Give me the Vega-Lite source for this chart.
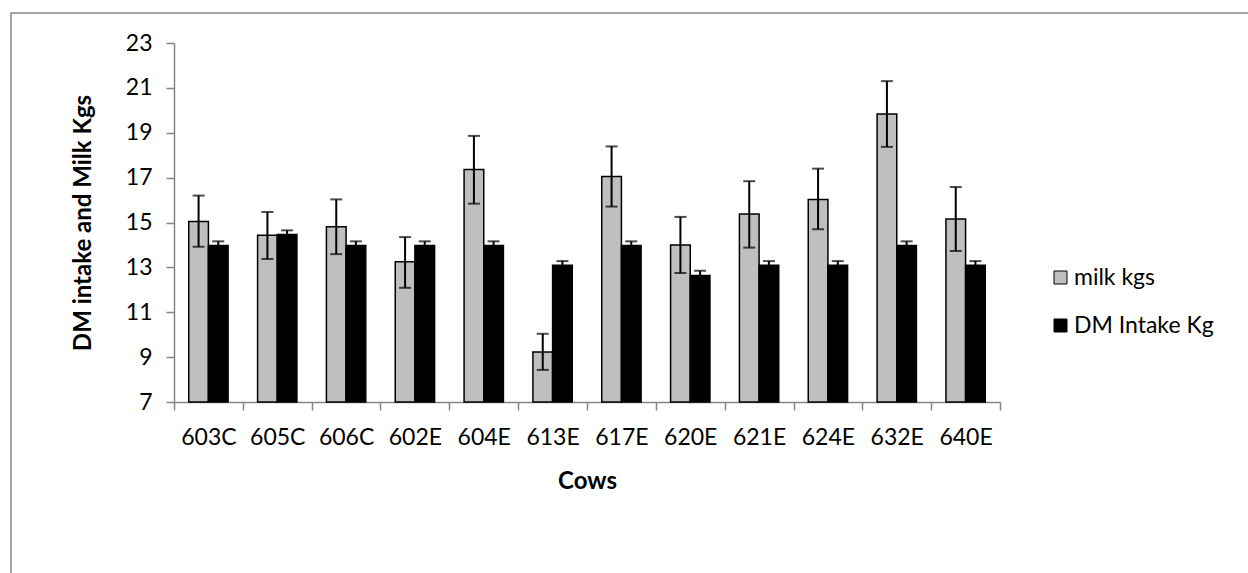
{
  "$schema": "https://vega.github.io/schema/vega-lite/v6.json",
  "autosize": {"type": "none"},
  "padding": {"left": 11, "top": 13, "right": -23, "bottom": -20},
  "width": 1260,
  "height": 580,
  "background": "white",
  "config": {
    "view": {"stroke": "#888888", "strokeWidth": 1.5},
    "font": "Lato",
    "axis": {"grid": false, "labelFont": "Lato", "titleFont": "Lato", "labelColor": "#000000", "titleColor": "#000000"}
  },
  "data": {
    "values": [
      {"cow": "603C", "series": "milk kgs", "value": 15.04, "lo": 13.92, "hi": 16.20},
      {"cow": "603C", "series": "DM Intake Kg", "value": 13.97, "lo": 13.78, "hi": 14.16},
      {"cow": "605C", "series": "milk kgs", "value": 14.43, "lo": 13.37, "hi": 15.47},
      {"cow": "605C", "series": "DM Intake Kg", "value": 14.47, "lo": 14.29, "hi": 14.65},
      {"cow": "606C", "series": "milk kgs", "value": 14.81, "lo": 13.59, "hi": 16.03},
      {"cow": "606C", "series": "DM Intake Kg", "value": 13.97, "lo": 13.78, "hi": 14.16},
      {"cow": "602E", "series": "milk kgs", "value": 13.25, "lo": 12.09, "hi": 14.35},
      {"cow": "602E", "series": "DM Intake Kg", "value": 13.97, "lo": 13.78, "hi": 14.16},
      {"cow": "604E", "series": "milk kgs", "value": 17.36, "lo": 15.84, "hi": 18.86},
      {"cow": "604E", "series": "DM Intake Kg", "value": 13.97, "lo": 13.78, "hi": 14.16},
      {"cow": "613E", "series": "milk kgs", "value": 9.23, "lo": 8.43, "hi": 10.04},
      {"cow": "613E", "series": "DM Intake Kg", "value": 13.09, "lo": 12.90, "hi": 13.28},
      {"cow": "617E", "series": "milk kgs", "value": 17.05, "lo": 15.71, "hi": 18.39},
      {"cow": "617E", "series": "DM Intake Kg", "value": 13.97, "lo": 13.78, "hi": 14.16},
      {"cow": "620E", "series": "milk kgs", "value": 14.00, "lo": 12.75, "hi": 15.25},
      {"cow": "620E", "series": "DM Intake Kg", "value": 12.64, "lo": 12.43, "hi": 12.85},
      {"cow": "621E", "series": "milk kgs", "value": 15.38, "lo": 13.88, "hi": 16.84},
      {"cow": "621E", "series": "DM Intake Kg", "value": 13.09, "lo": 12.90, "hi": 13.28},
      {"cow": "624E", "series": "milk kgs", "value": 16.03, "lo": 14.70, "hi": 17.40},
      {"cow": "624E", "series": "DM Intake Kg", "value": 13.09, "lo": 12.90, "hi": 13.28},
      {"cow": "632E", "series": "milk kgs", "value": 19.84, "lo": 18.37, "hi": 21.30},
      {"cow": "632E", "series": "DM Intake Kg", "value": 13.97, "lo": 13.78, "hi": 14.16},
      {"cow": "640E", "series": "milk kgs", "value": 15.16, "lo": 13.73, "hi": 16.58},
      {"cow": "640E", "series": "DM Intake Kg", "value": 13.09, "lo": 12.90, "hi": 13.28}
    ]
  },
  "encoding": {
    "x": {
      "field": "cow",
      "type": "nominal",
      "sort": null,
      "scale": {"range": [163, 989], "paddingInner": 0, "paddingOuter": 0},
      "axis": {
        "title": "Cows",
        "offset": -191,
        "labelAngle": 0,
        "labelFontSize": 23,
        "labelPadding": 16,
        "labelOverlap": false,
        "titleFontSize": 24,
        "titleFontWeight": "bold",
        "titlePadding": 20,
        "tickBand": "extent",
        "tickSize": 8,
        "tickColor": "#868686",
        "tickWidth": 1.5,
        "domainColor": "#868686",
        "domainWidth": 1.5
      }
    },
    "xOffset": {
      "field": "series",
      "type": "nominal",
      "sort": ["milk kgs", "DM Intake Kg"],
      "scale": {"paddingInner": 0, "paddingOuter": 0.75}
    }
  },
  "layer": [
    {
      "mark": {"type": "bar", "stroke": "#000000", "strokeWidth": 1.5},
      "encoding": {
        "y": {
          "field": "value",
          "type": "quantitative",
          "scale": {"domain": [7, 23], "zero": false, "nice": false, "range": [389, 30]},
          "axis": {
            "title": "DM intake and Milk Kgs",
            "offset": -163,
            "values": [7, 9, 11, 13, 15, 17, 19, 21, 23],
            "labelFontSize": 23,
            "labelPadding": 14,
            "titleFontSize": 24,
            "titleFontWeight": "bold",
            "titlePadding": 30,
            "tickSize": 8,
            "tickColor": "#868686",
            "tickWidth": 1.5,
            "domainColor": "#868686",
            "domainWidth": 1.5
          }
        },
        "y2": {"datum": 7},
        "color": {
          "field": "series",
          "type": "nominal",
          "sort": ["milk kgs", "DM Intake Kg"],
          "scale": {"domain": ["milk kgs", "DM Intake Kg"], "range": ["#BFBFBF", "#000000"]},
          "legend": {
            "title": null,
            "orient": "none",
            "legendX": 1038,
            "legendY": 253,
            "padding": 0,
            "symbolType": "square",
            "symbolSize": 169,
            "symbolStrokeColor": "#000000",
            "symbolStrokeWidth": 1,
            "labelFont": "Lato",
            "labelFontSize": 23,
            "labelColor": "#000000",
            "labelOffset": 2,
            "rowPadding": 24
          }
        }
      }
    },
    {
      "mark": {"type": "rule", "color": "#000000", "strokeWidth": 2},
      "encoding": {
        "y": {"field": "lo", "type": "quantitative"},
        "y2": {"field": "hi"}
      }
    },
    {
      "mark": {"type": "tick", "color": "#000000", "thickness": 2, "size": 12, "orient": "horizontal"},
      "encoding": {
        "y": {"field": "lo", "type": "quantitative"}
      }
    },
    {
      "mark": {"type": "tick", "color": "#000000", "thickness": 2, "size": 12, "orient": "horizontal"},
      "encoding": {
        "y": {"field": "hi", "type": "quantitative"}
      }
    }
  ]
}
